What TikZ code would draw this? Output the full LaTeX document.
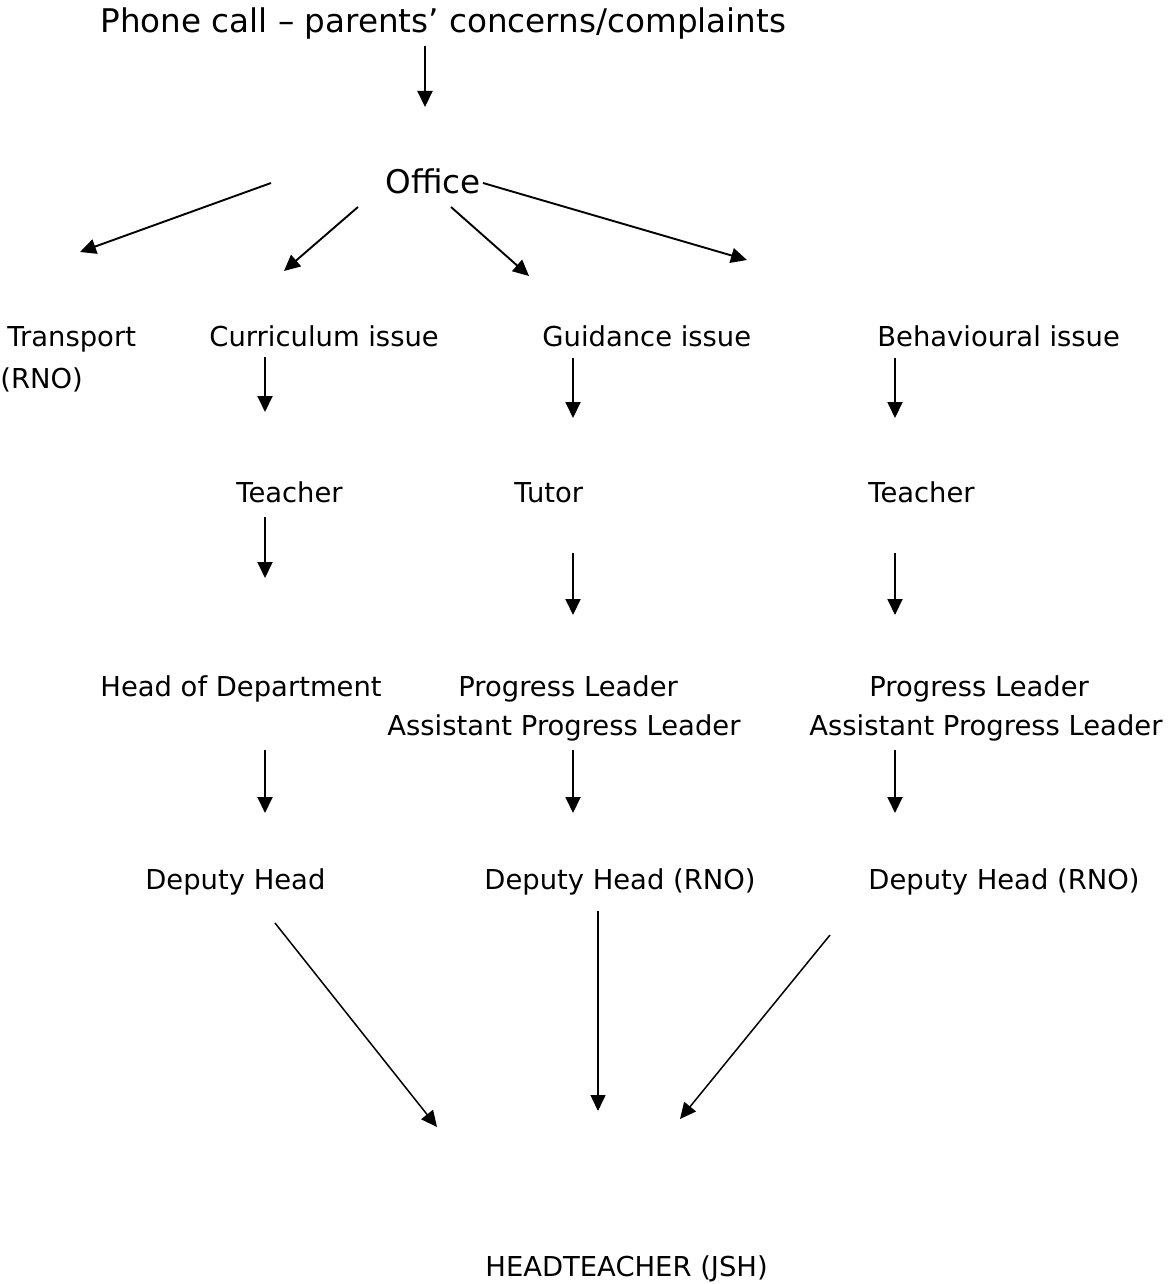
\documentclass[tikz,border=0pt]{standalone}
\usepackage{fontspec}
\setmainfont{DejaVu Sans}
\usetikzlibrary{positioning,arrows.meta}
\tikzset{
    boxtext/.style={anchor=base west, inner sep=0pt, font=\fontsize{13.7}{19.5}\selectfont},
    bigtext/.style={anchor=base west, inner sep=0pt, font=\fontsize{16.3}{20}\selectfont},
    flow/.style={draw, line width=0.95pt, -{Triangle[length=8pt, width=7.5pt]}}
}

\begin{document}
\begin{tikzpicture}[x=0.5pt, y=-0.5pt]
    \useasboundingbox (0,0) rectangle (1169,1284);
    % Top
    \node[bigtext] (call) at (100,33) {Phone call – parents’ concerns/complaints};
    \node[bigtext] (office) at (385,193) {Office};
    % Issues
    \node[boxtext] (transport) at (7,346) {Transport};
    \node[boxtext] (rno) at (0,388) {(RNO)};
    \node[boxtext] (curric) at (209,346) {Curriculum issue};
    \node[boxtext] (guide) at (542,346) {Guidance issue};
    \node[boxtext] (behav) at (877,346) {Behavioural issue};
    % First contact
    \node[boxtext] (teacherA) at (236,502) {Teacher};
    \node[boxtext] (tutor) at (514,502) {Tutor};
    \node[boxtext] (teacherB) at (868,502) {Teacher};
    % Leaders
    \node[boxtext] (hod) at (100,696) {Head of Department};
    \node[boxtext] (plA) at (458,696) {Progress Leader};
    \node[boxtext] (aplA) at (387,735) {Assistant Progress Leader};
    \node[boxtext] (plB) at (869,696) {Progress Leader};
    \node[boxtext] (aplB) at (809,735) {Assistant Progress Leader};
    % Deputies
    \node[boxtext] (dhA) at (145,889) {Deputy Head};
    \node[boxtext] (dhB) at (484,889) {Deputy Head (RNO)};
    \node[boxtext] (dhC) at (868,889) {Deputy Head (RNO)};
    % Head
    \node[boxtext] (head) at (485,1276) {HEADTEACHER (JSH)};

    % Arrow ends
    \coordinate (c1) at (425,46);   \coordinate (c2) at (425,107);
    \coordinate (o1) at (271,183);  \coordinate (t1) at (80,252);
    \coordinate (o2) at (358,207);  \coordinate (t2) at (284,271);
    \coordinate (o3) at (451,207);  \coordinate (t3) at (529,276);
    \coordinate (o4) at (483,183);  \coordinate (t4) at (747,260);
    \coordinate (a1) at (265,357);  \coordinate (b1) at (265,412);
    \coordinate (a2) at (573,358);  \coordinate (b2) at (573,418);
    \coordinate (a3) at (895,358);  \coordinate (b3) at (895,418);
    \coordinate (a4) at (265,517);  \coordinate (b4) at (265,578);
    \coordinate (a5) at (573,553);  \coordinate (b5) at (573,615);
    \coordinate (a6) at (895,553);  \coordinate (b6) at (895,615);
    \coordinate (a7) at (265,750);  \coordinate (b7) at (265,813);
    \coordinate (a8) at (573,750);  \coordinate (b8) at (573,813);
    \coordinate (a9) at (895,750);  \coordinate (b9) at (895,813);
    \coordinate (h1) at (275,923);  \coordinate (k1) at (437,1127);
    \coordinate (h2) at (598,911);  \coordinate (k2) at (598,1111);
    \coordinate (h3) at (830,935);  \coordinate (k3) at (680,1119);

    % Connectors
    \draw[flow] (c1) -- (c2);
    \draw[flow] (o1) -- (t1);
    \draw[flow] (o2) -- (t2);
    \draw[flow] (o3) -- (t3);
    \draw[flow] (o4) -- (t4);
    \draw[flow] (a1) -- (b1);
    \draw[flow] (a2) -- (b2);
    \draw[flow] (a3) -- (b3);
    \draw[flow] (a4) -- (b4);
    \draw[flow] (a5) -- (b5);
    \draw[flow] (a6) -- (b6);
    \draw[flow] (a7) -- (b7);
    \draw[flow] (a8) -- (b8);
    \draw[flow] (a9) -- (b9);
    \draw[flow, line width=0.75pt] (h1) -- (k1);
    \draw[flow, line width=0.75pt] (h2) -- (k2);
    \draw[flow, line width=0.75pt] (h3) -- (k3);
\end{tikzpicture}
\end{document}
